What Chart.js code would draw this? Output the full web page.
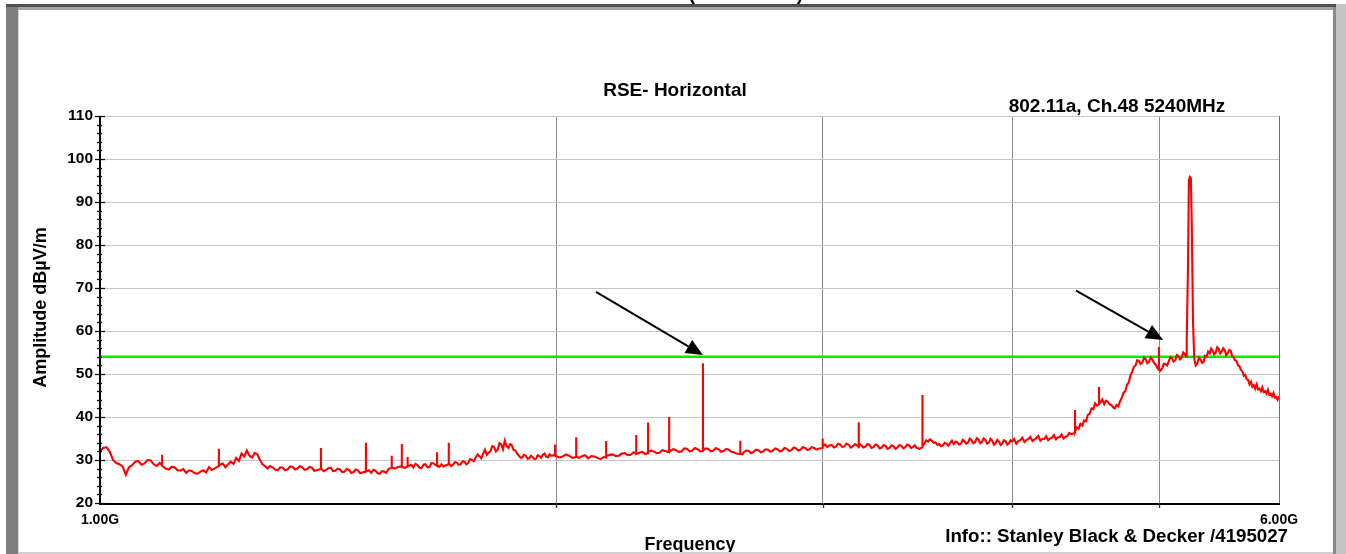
<!DOCTYPE html>
<html><head><meta charset="utf-8">
<script src="https://cdn.jsdelivr.net/npm/chart.js@4"></script>
<style>html,body{margin:0;padding:0;background:#fff;overflow:hidden}
#wrap{position:absolute;left:0;top:0;width:1346px;height:554px}</style>
</head><body><div id="wrap"><canvas id="c" width="1346" height="554"></canvas></div>
<script>
// ---- data (frequency in MHz, level in dBµV/m) ----
const traceBand1 = [[1000,32.0],[1005,32.8],[1010,33.0],[1015,31.9],[1020,30.0],[1025,29.3],[1030,29.0],[1035,28.5],[1040,26.6],[1045,28.3],[1050,28.8],[1055,29.6],[1060,29.8],[1065,28.9],[1070,29.2],[1075,30.0],[1080,29.9],[1085,29.0],[1090,28.6],[1095,29.3],[1099,28.8],[1099,31.2],[1099,28.6],[1105,28.0],[1110,27.8],[1115,28.4],[1120,28.3],[1125,27.6],[1130,27.5],[1135,27.9],[1140,27.0],[1145,27.6],[1150,27.4],[1155,26.9],[1160,26.8],[1165,27.3],[1170,27.6],[1175,27.1],[1180,28.3],[1185,27.7],[1190,28.0],[1198,28.6],[1198,32.6],[1198,28.8],[1205,29.2],[1210,28.3],[1215,29.0],[1220,29.6],[1225,29.1],[1230,30.5],[1235,29.8],[1240,31.5],[1245,30.8],[1250,32.2],[1255,31.0],[1260,30.6],[1265,31.6],[1270,31.4],[1275,30.0],[1280,29.0],[1285,28.6],[1290,28.0],[1295,28.6],[1300,28.3],[1305,27.8],[1310,27.6],[1315,28.3],[1320,28.2],[1325,27.6],[1330,27.8],[1335,28.5],[1340,28.4],[1345,27.8],[1350,28.0],[1355,28.6],[1360,28.3],[1365,27.7],[1370,27.9],[1375,28.4],[1380,28.2],[1385,27.5],[1390,27.6],[1399,27.9],[1399,32.8],[1399,28.0],[1405,27.4],[1410,27.7],[1415,28.1],[1420,28.2],[1425,27.4],[1430,27.5],[1435,28.0],[1440,27.8],[1445,27.2],[1450,27.3],[1455,27.9],[1460,27.7],[1465,27.0],[1470,27.2],[1475,27.8],[1480,27.6],[1485,26.9],[1490,27.1],[1498,27.4],[1498,34.0],[1498,27.3],[1505,27.6],[1510,27.0],[1515,27.7],[1520,27.5],[1525,26.9],[1530,26.8],[1535,27.4],[1540,27.3],[1545,27.0],[1550,27.9],[1558,28.2],[1558,31.0],[1558,28.3],[1565,28.0],[1572,28.3],[1582,28.6],[1582,33.7],[1582,28.4],[1590,28.2],[1596,28.6],[1596,30.7],[1596,28.5],[1605,28.9],[1610,28.3],[1615,29.1],[1620,28.8],[1625,28.2],[1630,28.1],[1635,28.9],[1640,29.0],[1645,28.3],[1650,28.4],[1655,29.3],[1660,29.2],[1669,28.6],[1669,31.8],[1669,28.8],[1675,28.4],[1680,29.0],[1685,28.5],[1690,28.7],[1699,29.0],[1699,34.0],[1699,29.2],[1705,28.6],[1710,28.9],[1715,29.5],[1720,29.4],[1725,28.9],[1730,29.0],[1735,29.7],[1740,29.6],[1745,29.0],[1750,29.3],[1755,30.2],[1760,30.0],[1765,29.7],[1770,30.6],[1775,31.3],[1780,30.9],[1785,30.4],[1790,31.5],[1795,32.4],[1800,31.2],[1805,31.7],[1810,32.0],[1815,33.2],[1820,33.0],[1825,32.0],[1830,32.4],[1835,33.9],[1840,33.6],[1845,32.5],[1850,34.5],[1855,33.2],[1860,32.8],[1865,33.7],[1870,33.4],[1875,32.3],[1880,32.2],[1885,31.5],[1890,31.0],[1895,30.5],[1900,30.6],[1905,31.2],[1910,31.0],[1915,30.3],[1920,30.4],[1925,31.0],[1930,30.7],[1935,30.2],[1940,30.3],[1945,31.1],[1950,30.9],[1955,30.5],[1960,31.2],[1965,31.5],[1970,30.8],[1975,30.6],[1980,31.3],[1985,31.0],[1990,31.0],[1997,31.4],[1997,33.6],[1997,31.0]];
const traceBand2 = [[2010,30.6],[2020,30.8],[2030,31.3],[2040,31.0],[2050,30.5],[2062,30.7],[2062,35.3],[2062,30.8],[2070,30.5],[2080,30.9],[2090,31.1],[2100,30.4],[2110,30.9],[2120,30.8],[2130,30.5],[2140,30.2],[2150,30.7],[2158,30.6],[2158,34.4],[2158,30.9],[2170,31.2],[2180,31.3],[2190,30.9],[2200,31.0],[2210,31.5],[2220,31.6],[2230,31.1],[2240,31.2],[2250,31.8],[2259,31.5],[2259,35.8],[2259,31.4],[2270,31.7],[2280,31.9],[2290,31.4],[2300,31.6],[2300,38.7],[2300,31.8],[2310,32.2],[2320,32.0],[2330,31.6],[2340,31.7],[2350,32.3],[2360,32.1],[2375,31.8],[2375,40.0],[2375,32.0],[2390,32.5],[2400,32.3],[2410,31.9],[2420,32.0],[2430,32.7],[2440,32.6],[2450,32.0],[2460,32.2],[2470,32.8],[2480,32.5],[2490,32.0],[2500,32.1],[2500,52.5],[2500,32.2],[2510,32.7],[2520,32.6],[2530,32.0],[2540,32.2],[2550,32.8],[2560,32.5],[2570,31.9],[2580,32.1],[2590,32.6],[2600,32.4],[2610,31.9],[2620,31.8],[2630,31.5],[2646,31.4],[2646,34.5],[2646,31.6],[2655,31.3],[2660,31.8],[2670,32.2],[2680,32.1],[2690,31.6],[2700,31.9],[2710,32.4],[2720,32.3],[2730,31.8],[2740,32.0],[2750,32.5],[2760,32.4],[2770,31.9],[2780,32.2],[2790,32.7],[2800,32.5],[2810,32.0],[2820,32.2],[2830,32.8],[2840,32.6],[2850,32.1],[2860,32.3],[2870,32.9],[2880,32.7],[2890,32.2],[2900,32.4],[2910,33.0],[2920,32.8],[2930,32.3],[2940,32.5],[2950,33.0],[2960,32.8],[2970,32.4],[2980,32.6],[2999,32.8],[2999,35.0],[2999,33.2],[3010,33.6],[3020,33.0],[3030,33.4],[3040,33.5],[3050,32.9],[3060,33.1],[3070,33.8],[3080,33.6],[3090,33.0],[3100,33.2],[3110,33.8],[3120,33.5],[3130,32.9],[3140,33.2],[3150,33.7],[3168,33.1],[3168,38.8],[3168,33.2],[3175,33.6],[3180,33.4],[3190,32.9],[3200,33.1],[3210,33.7],[3220,33.5],[3230,32.8],[3240,33.0],[3250,33.6],[3260,33.4],[3270,32.7],[3280,32.9],[3290,33.5],[3300,33.3],[3310,32.6],[3320,32.8],[3330,33.4],[3340,33.2],[3350,32.6],[3360,32.9],[3370,33.5],[3380,33.3],[3390,32.7],[3400,33.0],[3410,33.6],[3420,33.4],[3430,32.8],[3440,33.0],[3450,33.4],[3460,32.8],[3475,32.6],[3490,33.0],[3490,45.1],[3490,33.2],[3500,33.8],[3510,34.6],[3520,34.3],[3530,34.8],[3540,34.5],[3550,34.0],[3560,34.1],[3570,33.5],[3580,33.7],[3590,33.2],[3600,33.4],[3610,34.0],[3620,33.8],[3630,33.3],[3640,34.0],[3650,34.5],[3660,33.7],[3670,34.3],[3680,34.1],[3690,33.6],[3700,33.8],[3710,34.7],[3720,34.4],[3730,33.8],[3740,34.0],[3750,35.0],[3760,34.6],[3770,33.9],[3780,34.1],[3790,35.1],[3800,34.8],[3810,33.9],[3820,34.2],[3830,35.0],[3840,34.7],[3850,33.8],[3860,34.0],[3870,34.9],[3880,34.5],[3890,33.6],[3900,33.9],[3910,34.7],[3920,34.3],[3930,33.5],[3940,33.8],[3950,34.6],[3960,34.4],[3970,33.6],[3980,33.9],[3990,34.6]];
const traceBand3 = [[4000,34.3],[4012,34.9],[4025,33.8],[4037,34.4],[4050,34.6],[4062,35.2],[4075,34.2],[4087,34.6],[4100,34.9],[4112,35.4],[4125,34.4],[4137,34.8],[4150,35.1],[4162,35.6],[4175,34.5],[4187,34.9],[4200,34.9],[4212,35.5],[4225,34.6],[4237,35.0],[4250,35.2],[4262,35.8],[4275,34.8],[4287,35.3],[4300,35.3],[4312,35.9],[4325,35.0],[4337,35.4],[4350,35.6],[4362,36.3],[4375,36.0],[4401,36.3],[4401,41.6],[4401,36.6],[4412,37.6],[4425,37.3],[4437,38.4],[4450,38.0],[4462,39.2],[4475,39.0],[4487,40.5],[4500,40.8],[4512,42.0],[4525,41.8],[4537,43.2],[4550,42.6],[4564,43.0],[4564,47.0],[4564,43.2],[4575,43.4],[4587,44.1],[4600,43.0],[4612,43.8],[4625,43.6],[4637,43.0],[4650,42.8],[4662,42.3],[4675,42.0],[4687,42.8],[4700,42.5],[4712,43.6],[4725,44.5],[4737,45.6],[4750,46.0],[4762,47.5],[4775,48.0],[4787,49.6],[4800,50.5],[4812,51.6],[4825,52.0],[4837,53.2],[4850,53.0],[4862,52.3],[4875,52.7],[4887,53.8],[4900,53.4],[4912,52.5],[4925,52.9],[4937,53.8],[4950,53.3],[4962,52.6],[4975,52.2],[4987,51.4],[4999,51.0],[4999,56.3],[4999,51.2],[5012,50.8],[5025,51.4],[5037,52.4],[5050,52.3],[5062,52.0],[5075,53.0],[5087,53.9],[5100,53.6],[5112,52.9],[5125,53.2],[5137,54.4],[5150,54.2],[5162,53.4],[5175,53.8],[5187,55.0],[5200,54.6],[5210,54.0],[5215,58.0],[5225,75.0],[5232,95.0],[5240,95.8],[5248,95.5],[5255,85.0],[5265,62.0],[5275,53.5],[5287,52.0],[5300,52.5],[5312,53.8],[5325,53.4],[5337,52.6],[5350,52.8],[5362,54.2],[5375,54.0],[5387,55.2],[5400,54.8],[5412,55.9],[5425,55.4],[5437,54.6],[5450,55.0],[5462,56.2],[5475,55.8],[5487,54.8],[5500,55.2],[5512,56.0],[5525,55.6],[5537,54.4],[5550,54.8],[5562,55.6],[5575,55.4],[5587,54.2],[5600,53.9],[5612,53.2],[5625,53.0],[5637,52.0],[5650,51.8],[5662,51.0],[5675,50.6],[5687,49.6],[5700,49.8],[5712,48.8],[5725,48.6],[5737,47.6],[5750,48.2],[5762,47.0],[5775,47.4],[5787,46.6],[5800,47.6],[5812,46.4],[5825,46.6],[5837,46.0],[5850,46.9],[5862,45.8],[5875,46.0],[5887,45.4],[5900,46.3],[5912,45.2],[5925,45.4],[5937,44.8],[5950,45.6],[5962,44.5],[5975,44.6],[5987,44.0],[6000,44.8]];
const limitFreqMHz = [1000, 6000];
const limitLevel = [54, 54];
const xTickValues = [1000, 2000, 3000, 4000, 5000, 6000];
const xTickLabels = ['1.00G', '', '', '', '', '6.00G'];
const yTickValues = [20, 30, 40, 50, 60, 70, 80, 90, 100, 110];
const arrowNotes = [
  { from: [2125, 69.1], to: [2500, 54.4] },
  { from: [4408, 69.4], to: [5031, 57.9] }
];
const chartTitle = 'RSE- Horizontal';
const chartSubtitle = '802.11a, Ch.48 5240MHz';
const xTitle = 'Frequency';
const yTitle = 'Amplitude dBµV/m';
const infoText = 'Info:: Stanley Black & Decker /4195027';

// ---- build ----
const toPts = arr => arr.map(p => ({ x: p[0], y: p[1] }));
const tracePoints = toPts(traceBand1.concat(traceBand2, traceBand3));
const limitPoints = limitFreqMHz.map((f, i) => ({ x: f, y: limitLevel[i] }));
const FONT = '"Liberation Sans", Arial, sans-serif';

const framePlugin = {
  id: 'frame',
  beforeDraw(chart) {
    const c = chart.ctx;
    c.save();
    c.fillStyle = '#ffffff';
    c.fillRect(0, 0, chart.width, chart.height);
    c.restore();
  },
  afterDraw(chart) {
    const c = chart.ctx;
    const a = chart.chartArea;
    const xs = chart.scales.x, ys = chart.scales.y;
    c.save();
    // axes
    c.strokeStyle = '#6f6f6f'; c.lineWidth = 1;
    c.beginPath(); c.moveTo(Math.round(a.right) + 0.5, a.top); c.lineTo(Math.round(a.right) + 0.5, a.bottom); c.stroke();
    c.strokeStyle = '#000'; c.lineWidth = 2;
    c.beginPath(); c.moveTo(a.left, a.top); c.lineTo(a.left, a.bottom + 1); c.lineTo(a.right + 1, a.bottom + 1); c.stroke();
    // y ticks major & minor
    c.lineWidth = 1.3; c.strokeStyle = '#111';
    for (let v = ys.min; v <= ys.max + 1e-6; v += 2) {
      const y = Math.round(ys.getPixelForValue(v)) + 0.5;
      const major = Math.abs(v % 10) < 1e-6;
      c.beginPath();
      c.moveTo(a.left - (major ? 5 : 3), y); c.lineTo(a.left + (major ? 5 : 2), y);
      c.stroke();
    }
    // x ticks
    c.lineWidth = 1.3; c.strokeStyle = '#333';
    xTickValues.slice(1, -1).forEach(v => {
      const x = Math.round(xs.getPixelForValue(v)) + 0.5;
      c.beginPath(); c.moveTo(x, a.bottom); c.lineTo(x, a.bottom + 5); c.stroke();
    });
    // arrows
    c.fillStyle = '#000'; c.strokeStyle = '#000';
    arrowNotes.forEach(n => {
      const x0 = xs.getPixelForValue(n.from[0]), y0 = ys.getPixelForValue(n.from[1]);
      const x1 = xs.getPixelForValue(n.to[0]), y1 = ys.getPixelForValue(n.to[1]);
      const ang = Math.atan2(y1 - y0, x1 - x0);
      const L = 17, W = 7.5;
      const bx = x1 - L * Math.cos(ang), by = y1 - L * Math.sin(ang);
      c.lineWidth = 2;
      c.beginPath(); c.moveTo(x0, y0); c.lineTo(bx, by); c.stroke();
      c.beginPath(); c.moveTo(x1, y1);
      c.lineTo(bx + W * Math.sin(ang), by - W * Math.cos(ang));
      c.lineTo(bx - W * Math.sin(ang), by + W * Math.cos(ang));
      c.closePath(); c.fill();
    });
    // texts
    c.fillStyle = '#000';
    c.textBaseline = 'alphabetic';
    c.font = 'bold 19px ' + FONT;
    c.textAlign = 'center';
    c.fillText(chartTitle, 675, 95.5);
    c.fillText(chartSubtitle, 1117, 112);
    c.fillText('(', 692, 0);
    c.fillText(')', 800, 0);
    c.font = 'bold 18px ' + FONT;
    c.fillText(xTitle, 690, 550);
    c.font = 'bold 18.7px ' + FONT;
    c.textAlign = 'right';
    c.fillText(infoText, 1288, 541.5);
    c.save();
    c.translate(46, 307.5);
    c.rotate(-Math.PI / 2);
    c.textAlign = 'center';
    c.font = 'bold 18px ' + FONT;
    c.fillText(yTitle, 0, 0);
    c.restore();
    // outer frame
    c.fillStyle = '#7f7f7f'; c.fillRect(6, 4, 12, 550);
    c.fillStyle = '#4f4f4f'; c.fillRect(6, 4, 1334, 3);
    c.fillStyle = '#a4a4a4'; c.fillRect(18, 7, 1316, 3);
    c.fillStyle = '#d4d4d4'; c.fillRect(18, 10, 1, 544);
    c.fillStyle = '#8a8a8a'; c.fillRect(1333, 7, 3, 547);
    c.fillStyle = '#c4c4c4'; c.fillRect(1336, 4, 10, 550);
    c.fillStyle = '#cfcfcf'; c.fillRect(18, 552, 1315, 2);
    c.restore();
  }
};

new Chart(document.getElementById('c'), {
  type: 'line',
  data: {
    datasets: [
      { label: 'Trace', data: tracePoints, borderColor: '#ff0000', borderWidth: 2.1, pointRadius: 0, tension: 0, fill: false, borderJoinStyle: 'miter' },
      { label: 'Limit', data: limitPoints, borderColor: '#00ee00', borderWidth: 2.5, pointRadius: 0, tension: 0, fill: false }
    ]
  },
  options: {
    responsive: false, animation: false, devicePixelRatio: 1,
    layout: { padding: { left: 0, right: 67, top: 116, bottom: 0 } },
    plugins: { legend: { display: false }, tooltip: { enabled: false }, title: { display: false } },
    scales: {
      x: {
        type: 'logarithmic', min: 1000, max: 6000,
        afterBuildTicks: s => { s.ticks = xTickValues.map(v => ({ value: v })); },
        afterFit: s => { s.height = 51; s.paddingLeft = 0; s.paddingRight = 0; },
        ticks: { autoSkip: false, maxRotation: 0, minRotation: 0, padding: 9, color: '#000',
          font: { family: FONT, size: 14, weight: 'bold' },
          callback: (v, i) => xTickLabels[i] },
        grid: { drawTicks: false, lineWidth: 1,
          color: ctx => (ctx.index === 0 ? 'rgba(0,0,0,0)' : '#8c8c8c') },
        border: { display: false }
      },
      y: {
        min: 20, max: 110,
        afterBuildTicks: s => { s.ticks = yTickValues.map(v => ({ value: v })); },
        afterFit: s => { s.width = 100; s.paddingTop = 0; s.paddingBottom = 0; },
        ticks: { padding: 7, color: '#000', font: { family: FONT, size: 15.5, weight: 'bold' } },
        grid: { drawTicks: false, lineWidth: 1, color: '#c6c6c6' },
        border: { display: false }
      }
    }
  },
  plugins: [framePlugin]
});
</script>
</body></html>
